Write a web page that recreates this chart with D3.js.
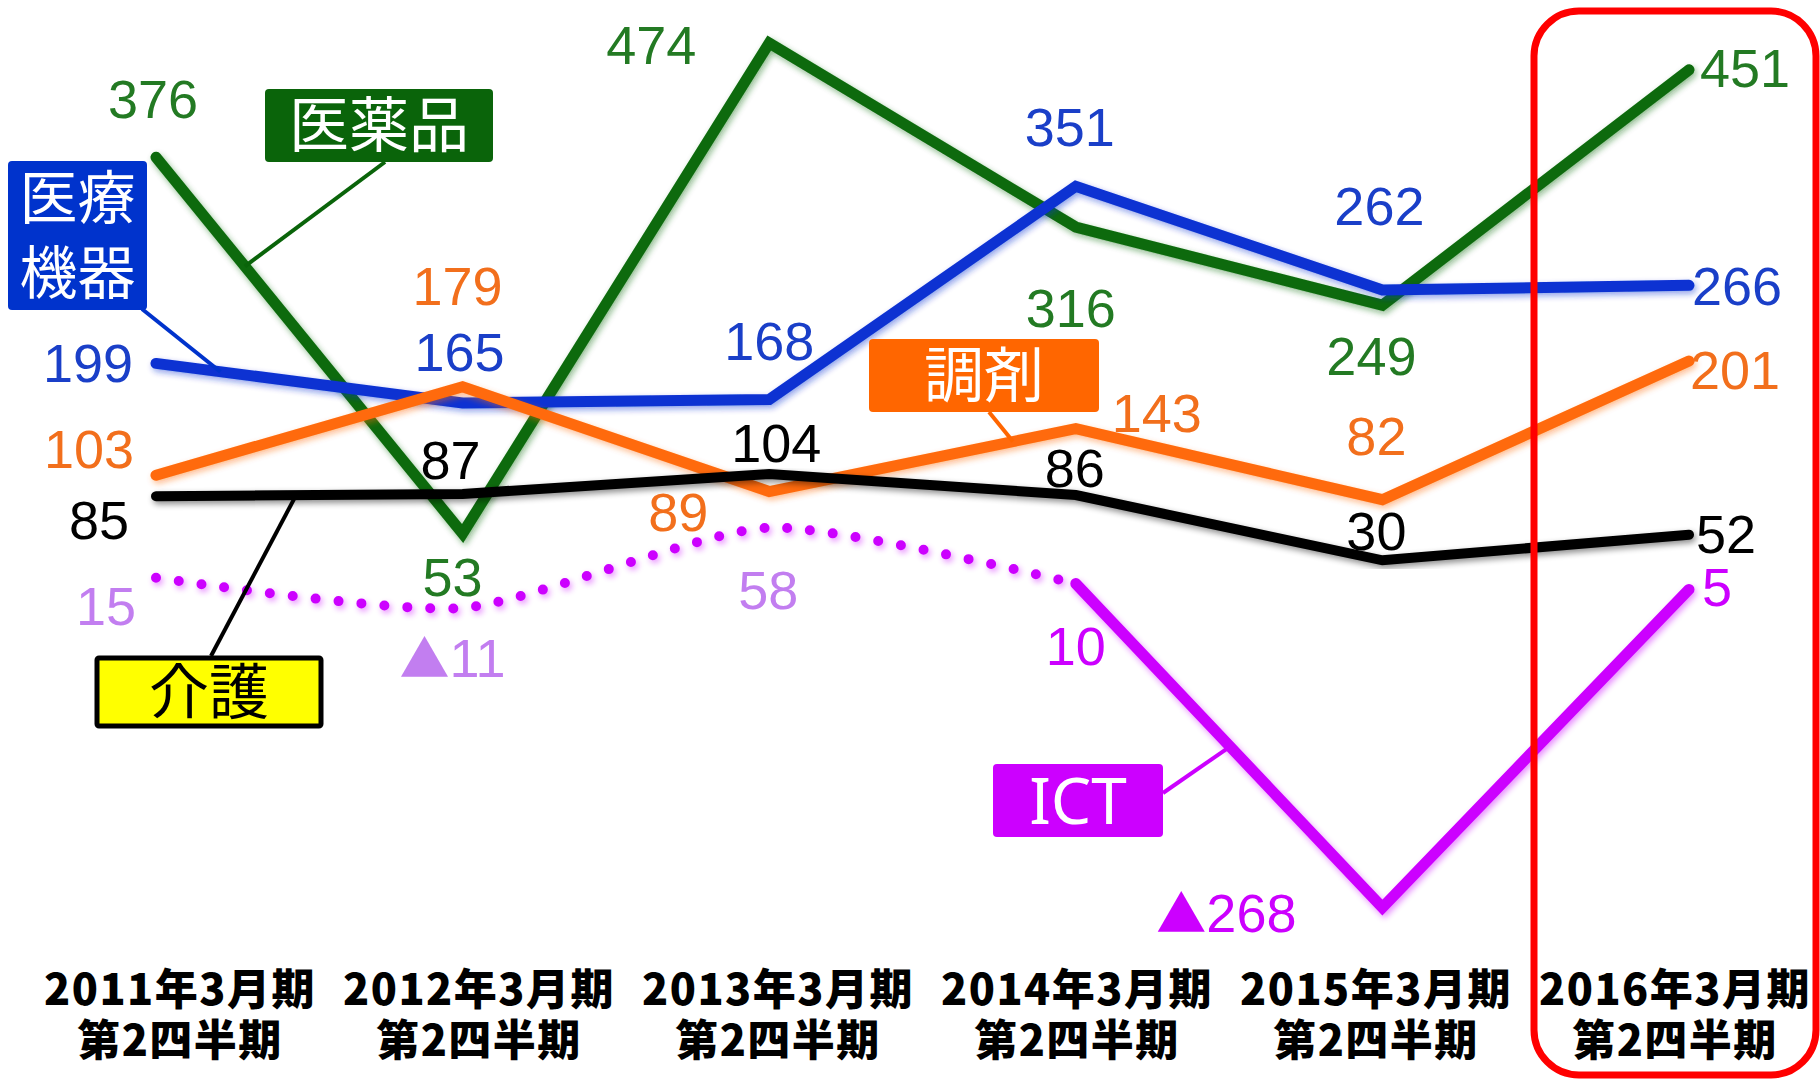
<!DOCTYPE html>
<html lang="ja">
<head>
<meta charset="utf-8">
<script src="https://cdn.jsdelivr.net/npm/d3@7"></script>
<style>
  html, body { margin: 0; padding: 0; background: #fff; }
  svg { display: block; }
</style>
</head>
<body>
<script>
// data
const categories = ["2011年3月期", "2012年3月期", "2013年3月期", "2014年3月期", "2015年3月期", "2016年3月期"];
const quarterLabel = "第2四半期";
const pharma = [376, 53, 474, 316, 249, 451];       // 医薬品
const devices = [199, 165, 168, 351, 262, 266];     // 医療機器
const dispensing = [103, 179, 89, 143, 82, 201];    // 調剤
const care = [85, 87, 104, 86, 30, 52];             // 介護
const ict = [15, -11, 58, 10, -268, 5];             // ICT

const width = 1820;
const height = 1080;

const x = d3.scalePoint().domain(categories).range([156, 1689]);
const xLabel = d3.scalePoint().domain(categories).range([180, 1675]);
const y = d3.scaleLinear()
  .domain(d3.extent([...pharma, ...devices, ...dispensing, ...care, ...ict]))
  .range([907.5, 43]);

// label offsets from each point: [dx, dy, anchor]
const series = [
  { name: "医薬品", values: pharma, color: "#0b6a0b", text: "#237a23", width: 11,
    labels: [[-3, -39], [-10, 62], [-118, 21], [-5, 100], [-11, 70], [11, 17, "start"]] },
  { name: "医療機器", values: devices, color: "#0a32d2", text: "#1a3fc8", width: 11,
    labels: [[-68, 19], [-3, -32], [0, -40], [-6, -40], [-3, -65], [3, 20, "start"]] },
  { name: "調剤", values: dispensing, color: "#ff6a0a", text: "#f26f1c", width: 11,
    labels: [[-67, -7], [-5, -82], [-91, 39], [81, 3], [-6, -45], [1, 28, "start"]] },
  { name: "介護", values: care, color: "#000000", text: "#000000", width: 10,
    labels: [[-57, 43], [-12, -15], [7, -12], [-1, -8], [-6, -10], [7, 18, "start"]] }
];
const ictLabels = [[-50, 47], [-10, 69], [-1, 81], [0, 81], [-156, 24], [13, 17, "start"]];
const ictColor = "#cc00ff";
const ictLight = "#c27ef0";

const svg = d3.select("body").append("svg")
  .attr("width", width)
  .attr("height", height);

svg.append("rect").attr("width", width).attr("height", height).attr("fill", "#fff");

const defs = svg.append("defs");
const glow = defs.append("filter").attr("id", "glow")
  .attr("x", "-10%").attr("y", "-10%").attr("width", "120%").attr("height", "120%");
glow.append("feGaussianBlur").attr("in", "SourceGraphic").attr("stdDeviation", 3).attr("result", "b");
glow.append("feOffset").attr("in", "b").attr("dx", 2).attr("dy", 3).attr("result", "o");
glow.append("feComponentTransfer").attr("in", "o").attr("result", "t")
  .append("feFuncA").attr("type", "linear").attr("slope", 0.45);
const merge = glow.append("feMerge");
merge.append("feMergeNode").attr("in", "t");
merge.append("feMergeNode").attr("in", "SourceGraphic");

const pt = (values, i) => [x(categories[i]), y(values[i])];
const along = (values, i, t) => {
  const a = pt(values, i), b = pt(values, i + 1);
  return [a[0] + (b[0] - a[0]) * t, a[1] + (b[1] - a[1]) * t];
};

const line = d3.line()
  .x((d, i) => x(categories[i]))
  .y(d => y(d));

// ICT: dotted curve for first four periods, solid afterwards
const ictG = svg.append("g").attr("filter", "url(#glow)");
const ictDotted = ict.slice(0, 4).map((v, i) => [x(categories[i]), y(v)]);
const ictSolid = ict.slice(3).map((v, i) => [x(categories[i + 3]), y(v)]);
ictG.append("path")
  .attr("d", d3.line().curve(d3.curveCardinal.tension(0.35))(ictDotted))
  .attr("fill", "none")
  .attr("stroke", ictColor)
  .attr("stroke-width", 10)
  .attr("stroke-linecap", "round")
  .attr("stroke-dasharray", "0 23");
ictG.append("path")
  .attr("d", d3.line()(ictSolid))
  .attr("fill", "none")
  .attr("stroke", ictColor)
  .attr("stroke-width", 11)
  .attr("stroke-linecap", "round");

svg.append("g")
  .selectAll("path")
  .data(series)
  .join("path")
  .attr("d", s => line(s.values))
  .attr("fill", "none")
  .attr("stroke", s => s.color)
  .attr("stroke-width", s => s.width)
  .attr("stroke-linecap", "round")
  .attr("stroke-linejoin", "miter")
  .attr("filter", "url(#glow)");

// value labels; negatives use ▲ as in Japanese reports
const valueFont = "'Liberation Sans', Arial, sans-serif";
const cjk = "'Noto Sans CJK JP', sans-serif";
function writeValue(sel) {
  sel.each(function (v) {
    const t = d3.select(this);
    if (v < 0) {
      t.append("tspan").attr("font-family", cjk).attr("font-size", 50).text("▲");
      t.append("tspan").text(Math.abs(v));
    } else {
      t.text(v);
    }
  });
}
series.forEach(s => {
  svg.append("g")
    .selectAll("text")
    .data(s.values)
    .join("text")
    .attr("x", (v, i) => x(categories[i]) + s.labels[i][0])
    .attr("y", (v, i) => y(v) + s.labels[i][1])
    .attr("text-anchor", (v, i) => s.labels[i][2] || "middle")
    .attr("font-family", valueFont)
    .attr("font-size", 54)
    .attr("fill", s.text)
    .call(writeValue);
});
svg.append("g")
  .selectAll("text")
  .data(ict)
  .join("text")
  .attr("x", (v, i) => x(categories[i]) + ictLabels[i][0])
  .attr("y", (v, i) => y(v) + ictLabels[i][1])
  .attr("text-anchor", (v, i) => ictLabels[i][2] || "middle")
  .attr("font-family", valueFont)
  .attr("font-size", 54)
  .attr("fill", (v, i) => i < 3 ? ictLight : ictColor)
  .call(writeValue);

// category labels (two lines in one text)
const axisG = svg.append("g")
  .attr("font-family", cjk)
  .attr("font-weight", 900)
  .attr("font-size", 43)
  .attr("letter-spacing", 1.5)
  .attr("text-anchor", "middle")
  .attr("fill", "#000");
const catText = axisG.selectAll("text")
  .data(categories)
  .join("text")
  .attr("y", 1005);
catText.append("tspan")
  .attr("x", d => xLabel(d))
  .text(d => d);
catText.append("tspan")
  .attr("x", d => xLabel(d))
  .attr("dy", 51)
  .text(quarterLabel);

// highlight of latest period
const last = xLabel(categories[categories.length - 1]);
svg.append("rect")
  .attr("x", last - 141)
  .attr("y", 11)
  .attr("width", 282)
  .attr("height", 1064)
  .attr("rx", 45)
  .attr("fill", "none")
  .attr("stroke", "#ff0000")
  .attr("stroke-width", 7);

// series callouts
const callouts = [
  { lines: ["医薬品"], box: [265, 89, 228, 73], fill: "#0a640a", color: "#fff", size: 60,
    from: [385, 162], to: along(pharma, 0, 0.29), stroke: "#0a640a" },
  { lines: ["医療", "機器"], box: [8, 161, 139, 149], fill: "#0033cc", color: "#fff", size: 58,
    from: [142, 309], to: along(devices, 0, 0.21), stroke: "#0033cc" },
  { lines: ["調剤"], box: [869, 339, 230, 73], fill: "#ff6600", color: "#fff", size: 60,
    from: [989, 412], to: along(dispensing, 2, 0.795), stroke: "#ff6600" },
  { lines: ["介護"], box: [97, 658, 224, 68], fill: "#ffff00", color: "#000", size: 60,
    from: [211, 656], to: along(care, 0, 0.457), stroke: "#000", border: "#000" },
  { lines: ["ICT"], box: [993, 764, 170, 73], fill: "#cc00ff", color: "#fff", size: 64,
    from: [1163, 793], to: along(ict, 3, 0.503), stroke: "#cc00ff" }
];

callouts.forEach(c => {
  svg.append("line")
    .attr("x1", c.from[0]).attr("y1", c.from[1])
    .attr("x2", c.to[0]).attr("y2", c.to[1])
    .attr("stroke", c.stroke)
    .attr("stroke-width", 4);
  const [bx, by, bw, bh] = c.box;
  svg.append("rect")
    .attr("x", bx).attr("y", by)
    .attr("width", bw).attr("height", bh)
    .attr("rx", c.border ? 2 : 4)
    .attr("fill", c.fill)
    .attr("stroke", c.border || "none")
    .attr("stroke-width", c.border ? 5 : 0);
  const lh = bh / c.lines.length;
  svg.append("g")
    .selectAll("text")
    .data(c.lines)
    .join("text")
    .attr("x", bx + bw / 2)
    .attr("y", (d, i) => by + lh * i + lh / 2)
    .attr("dy", "0.36em")
    .attr("text-anchor", "middle")
    .attr("font-family", c.lines[0] === "ICT" ? "'Noto Sans', sans-serif" : cjk)
    .attr("font-size", c.size)
    .attr("fill", c.color)
    .text(d => d);
});
</script>
</body>
</html>
